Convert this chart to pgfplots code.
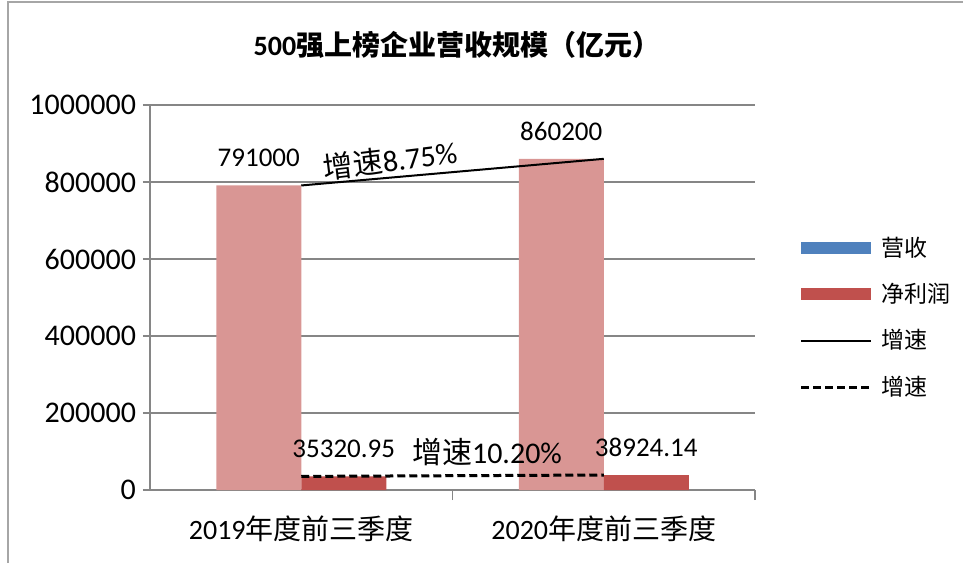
\documentclass[border=0pt]{standalone}
\usepackage{fontspec}
\usepackage{pgfplots}
\pgfplotsset{compat=1.18}
\setmainfont{Carlito}
\newfontfamily\cjk{Noto Sans CJK SC}
\definecolor{revpink}{HTML}{D99694}
\definecolor{profred}{HTML}{C0504D}
\definecolor{legblue}{HTML}{4F81BD}
\definecolor{axgray}{HTML}{868686}
\definecolor{framegray}{HTML}{A6A6A6}
\begin{document}
\begin{tikzpicture}
\path[use as bounding box] (0,0) rectangle (481.5pt,281.5pt);
\draw[framegray, line width=1pt] (4pt,0) -- (4pt,280.5pt) -- (481.5pt,280.5pt);
\node[font=\cjk\bfseries\fontsize{14}{17}\selectfont, inner sep=0pt] at (228.5pt,259pt) {{\rmfamily\bfseries 500}强上榜企业营收规模（亿元）};
\begin{axis}[
  at={(75pt,36.5pt)}, anchor=south west,
  scale only axis, width=302.5pt, height=192.5pt,
  xmin=0, xmax=2, ymin=0, ymax=1000000,
  axis x line*=bottom, axis y line*=left,
  axis line style={axgray, line width=0.8pt, -},
  ymajorgrids, grid style={axgray, line width=0.8pt},
  ytick={0,200000,400000,600000,800000,1000000},
  scaled y ticks=false,
  /pgf/number format/assume math mode=true,
  y tick label style={/pgf/number format/1000 sep={}, /pgf/number format/fixed, font=\fontsize{15}{18}\selectfont},
  xtick={0.5,1.5},
  xticklabels={{2019{\cjk 年度前三季度}},{2020{\cjk 年度前三季度}}},
  x tick label style={font=\fontsize{14}{17}\selectfont, yshift=-6pt},
  minor xtick={1,2},
  tick align=outside,
  major tick length=3.5pt, minor tick length=5pt,
  major x tick style={draw=none},
  tick style={axgray, line width=0.8pt},
  legend style={at={(1.066,0.448)}, anchor=west, draw=none, fill=none, inner sep=0pt,
    row sep=8pt, font=\cjk\fontsize{11.5}{13}\selectfont,
    /tikz/every odd column/.append style={column sep=0pt}},
  legend cell align=left,
]
\addplot[ybar, bar width=42.5pt, bar shift=-21.25pt, fill=revpink, draw=none, forget plot,
  point meta=explicit symbolic, nodes near coords,
  nodes near coords style={anchor=south, inner sep=0pt, yshift=9pt, xshift=-21.25pt, font=\fontsize{13.5}{16}\selectfont, black}]
  coordinates {(0.5,791000) [791000] (1.5,860200) [860200]};
\addplot[ybar, bar width=42.5pt, bar shift=21.25pt, fill=profred, draw=none, forget plot,
  point meta=explicit symbolic, nodes near coords,
  nodes near coords style={anchor=south, inner sep=0pt, yshift=9pt, xshift=21.25pt, font=\fontsize{13.5}{16}\selectfont, black}]
  coordinates {(0.5,35320.95) [35320.95] (1.5,38924.14) [38924.14]};
\addplot[black, line width=1pt, forget plot] coordinates {(0.5,791000) (1.5,860200)};
\addplot[black, line width=1.5pt, dash pattern=on 4pt off 2pt, forget plot] coordinates {(0.5,35320.95) (1.5,38924.14)};
\node[font=\fontsize{15}{18}\selectfont, rotate=7, inner sep=0pt] at (axis cs:0.793,857000) {{\cjk 增速}8.75\%};
\node[font=\fontsize{15}{18}\selectfont, inner sep=0pt] at (axis cs:1.114,98700) {{\cjk 增速}10.20\%};
\addlegendimage{legend image code/.code={\draw[legblue, line width=6pt] (0pt,0pt) -- (35pt,0pt);}}
\addlegendentry{营收}
\addlegendimage{legend image code/.code={\draw[profred, line width=6pt] (0pt,0pt) -- (35pt,0pt);}}
\addlegendentry{净利润}
\addlegendimage{legend image code/.code={\draw[black, line width=1pt] (0pt,0pt) -- (35pt,0pt);}}
\addlegendentry{增速}
\addlegendimage{legend image code/.code={\draw[black, line width=1.5pt, dash pattern=on 4pt off 2pt] (0pt,0pt) -- (35pt,0pt);}}
\addlegendentry{增速}
\end{axis}
\end{tikzpicture}
\end{document}
